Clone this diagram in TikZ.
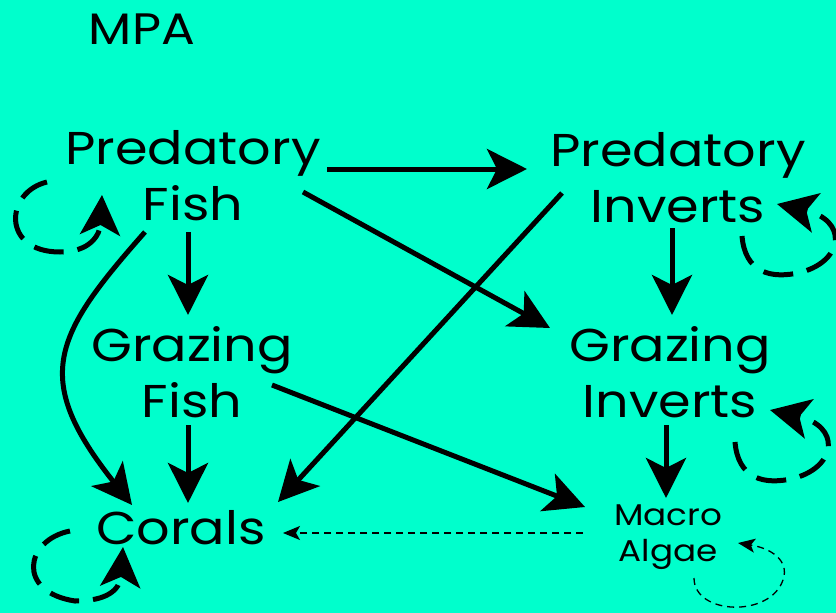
\documentclass[tikz,border=0pt]{standalone}
\usepackage{fontspec}
\setmainfont{Poppins}[FakeStretch=1.14]
\usetikzlibrary{arrows.meta,calc}
\definecolor{bgc}{HTML}{00FFCC}
\tikzset{
  lbl/.style={font=\fontsize{46}{56}\selectfont, align=center, inner sep=0pt},
  smalllbl/.style={font=\fontsize{30}{36}\selectfont, align=center, inner sep=0pt},
  bigarrow/.style={line width=5pt, -{Stealth[length=40pt,width=40pt,inset=10pt]}},
  loopd/.style={bigarrow, dash pattern=on 30pt off 14pt},
  thinarrow/.style={line width=1.3pt, dash pattern=on 7pt off 5pt, -{Stealth[length=17pt,width=14pt,inset=4pt]}}
}
\begin{document}
\begin{tikzpicture}[x=1pt,y=-1pt]
\fill[bgc] (0,0) rectangle (836,613);
\useasboundingbox (0,0) rectangle (836,613);

\node[lbl, font=\fontsize{44}{50}\selectfont] (mpa) at (142,29) {MPA};
\node[lbl] (pf) at (193,176) {Predatory\\Fish};
\node[lbl] (pi) at (678,178) {Predatory\\Inverts};
\node[lbl] (gf) at (192,372) {Grazing\\Fish};
\node[lbl] (gi) at (670,372) {Grazing\\Inverts};
\node[lbl] (co) at (181,528) {Corals};
\node[smalllbl] (ma) at (668,537) {Macro\\Algae};

% main arrows
\draw[bigarrow] ($(pf)+(134,-7)$) -- ($(pi)+(-151,-9)$);
\draw[bigarrow] ($(pf)+(110,16)$) -- ($(gi)+(-120,-44)$);
\draw[bigarrow] ($(pi)+(-116,15)$) -- ($(co)+(97,-26)$);
\draw[bigarrow] ($(pf)+(-5,56)$) -- ($(gf)+(-4,-57)$);
\draw[bigarrow] ($(pf)+(-48,56)$) .. controls ($(pf)+(-140,160)$) and ($(co)+(-150,-150)$) .. ($(co)+(-49,-23)$);
\draw[bigarrow] ($(gf)+(-4,53)$) -- ($(co)+(7,-25)$);
\draw[bigarrow] ($(gf)+(80,13)$) -- ($(ma)+(-83,-30)$);
\draw[bigarrow] ($(pi)+(-6,50)$) -- ($(gi)+(2,-57)$);
\draw[bigarrow] ($(gi)+(-4,53)$) -- ($(ma)+(-2,-39)$);
\draw[thinarrow] ($(ma)+(-85,-4)$) -- ($(co)+(102,5)$);

% self loops
\draw[loopd] ($(pf)+(-146,6)$) .. controls ($(pf)+(-188,16)$) and ($(pf)+(-192,76)$) .. ($(pf)+(-133,76)$)
   .. controls ($(pf)+(-103,76)$) and ($(pf)+(-93,59)$) .. ($(pf)+(-91,19)$);
\draw[loopd] ($(pi)+(64,58)$) .. controls ($(pi)+(67,94)$) and ($(pi)+(92,102)$) .. ($(pi)+(124,94)$)
   .. controls ($(pi)+(166,82)$) and ($(pi)+(170,42)$) .. ($(pi)+(99,26)$);
\draw[loopd] ($(gi)+(65,70)$) .. controls ($(gi)+(68,106)$) and ($(gi)+(93,114)$) .. ($(gi)+(125,106)$)
   .. controls ($(gi)+(167,94)$) and ($(gi)+(171,54)$) .. ($(gi)+(100,38)$);
\draw[loopd] ($(co)+(-111,3)$) .. controls ($(co)+(-156,12)$) and ($(co)+(-165,64)$) .. ($(co)+(-106,73)$)
   .. controls ($(co)+(-74,73)$) and ($(co)+(-61,62)$) .. ($(co)+(-58,19)$);
\draw[thinarrow] ($(ma)+(26,41)$) .. controls ($(ma)+(26,78)$) and ($(ma)+(102,81)$) .. ($(ma)+(115,43)$)
   .. controls ($(ma)+(122,23)$) and ($(ma)+(102,11)$) .. ($(ma)+(70,6)$);
\end{tikzpicture}
\end{document}
